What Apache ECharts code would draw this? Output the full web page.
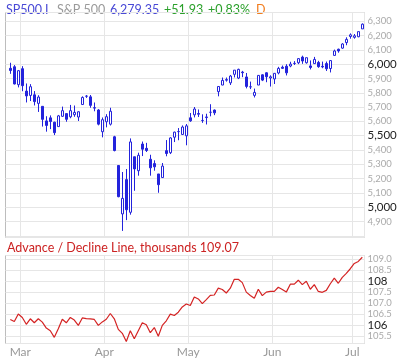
<!DOCTYPE html>
<html><head><meta charset="utf-8">
<script src="https://cdn.jsdelivr.net/npm/echarts@6/dist/echarts.min.js"></script>
<style>html,body{margin:0;padding:0;background:#fff}#c{width:400px;height:362px}</style>
</head><body><div id="c"></div>
<script>
// ---- data ----
const dates = [
 '2025-02-26','2025-02-27','2025-02-28',
 '2025-03-03','2025-03-04','2025-03-05','2025-03-06','2025-03-07','2025-03-10','2025-03-11','2025-03-12','2025-03-13','2025-03-14',
 '2025-03-17','2025-03-18','2025-03-19','2025-03-20','2025-03-21','2025-03-24','2025-03-25','2025-03-26','2025-03-27','2025-03-28','2025-03-31',
 '2025-04-01','2025-04-02','2025-04-03','2025-04-04','2025-04-07','2025-04-08','2025-04-09','2025-04-10','2025-04-11','2025-04-14',
 '2025-04-15','2025-04-16','2025-04-17','2025-04-21','2025-04-22','2025-04-23','2025-04-24','2025-04-25','2025-04-28','2025-04-29','2025-04-30',
 '2025-05-01','2025-05-02','2025-05-05','2025-05-06','2025-05-07','2025-05-08','2025-05-09','2025-05-12','2025-05-13','2025-05-14',
 '2025-05-15','2025-05-16','2025-05-19','2025-05-20','2025-05-21','2025-05-22','2025-05-23','2025-05-27','2025-05-28','2025-05-29','2025-05-30',
 '2025-06-02','2025-06-03','2025-06-04','2025-06-05','2025-06-06','2025-06-09','2025-06-10','2025-06-11','2025-06-12','2025-06-13',
 '2025-06-16','2025-06-17','2025-06-18','2025-06-20','2025-06-23','2025-06-24','2025-06-25','2025-06-26','2025-06-27','2025-06-30',
 '2025-07-01','2025-07-02','2025-07-03'
];
const opens = [5970.87,5981.88,5856.74,
 5968.33,5811.98,5781.44,5785.87,5726.01,5705.37,5603.65,5624.84,5594.45,5563.85,
 5635.60,5654.53,5632.37,5646.92,5630.73,5718.08,5775.90,5771.66,5695.64,5679.85,5527.91,
 5597.53,5580.76,5492.74,5292.14,4953.79,5193.57,4965.28,5353.15,5255.56,5441.96,
 5411.99,5335.75,5305.45,5232.94,5207.67,5395.92,5381.38,5489.73,5529.22,5508.87,5499.44,
 5625.14,5645.94,5655.32,5605.88,5626.86,5663.94,5679.32,5807.99,5854.22,5887.95,
 5869.37,5929.09,5902.88,5944.66,5910.79,5841.26,5781.89,5854.07,5925.54,5939.92,5903.67,
 5896.68,5938.56,5978.94,5985.67,5987.06,6004.60,6009.91,6049.38,6009.90,5987.89,
 6004.00,6012.15,5985.21,6004.21,5969.67,6061.21,6104.28,6112.09,6150.70,6193.36,
 6187.25,6191.60,6246.45];
const highs = [6009.82,5993.69,5959.40,
 5986.09,5865.08,5860.59,5812.08,5783.01,5705.37,5636.30,5642.19,5597.78,5645.27,
 5703.52,5654.53,5715.33,5711.15,5670.84,5775.14,5783.97,5784.62,5732.28,5685.89,5627.56,
 5650.57,5695.31,5499.53,5292.14,5246.57,5267.47,5481.34,5353.15,5381.46,5459.46,
 5450.41,5367.24,5328.31,5232.94,5309.60,5469.69,5489.40,5528.11,5553.66,5571.95,5581.84,
 5658.91,5700.70,5683.37,5649.62,5653.60,5720.10,5683.14,5844.19,5906.63,5906.55,
 5924.76,5958.62,5968.61,5953.06,5938.37,5878.08,5829.51,5924.33,5929.00,5943.13,5922.14,
 5937.40,5981.35,5990.48,5999.70,6016.87,6021.31,6043.01,6059.40,6045.43,6026.16,
 6050.83,6023.25,6018.20,6018.20,6028.81,6101.76,6108.51,6146.52,6187.68,6215.08,
 6210.78,6227.60,6284.65];
const lows = [5932.69,5858.78,5837.66,
 5810.91,5732.59,5742.35,5711.64,5666.29,5564.02,5528.41,5546.09,5504.65,5563.85,
 5631.12,5597.76,5622.20,5632.33,5603.10,5718.08,5764.29,5695.48,5670.94,5572.42,5488.73,
 5558.52,5571.48,5390.83,5069.90,4835.04,4910.42,4948.43,5115.27,5220.77,5358.02,
 5386.44,5220.79,5255.58,5101.63,5207.67,5356.42,5371.96,5455.86,5468.64,5505.70,5433.24,
 5597.35,5628.05,5631.16,5590.16,5578.64,5635.61,5643.99,5775.39,5853.23,5878.34,
 5854.43,5907.36,5895.69,5909.26,5830.91,5825.82,5767.41,5854.07,5881.72,5873.80,5843.66,
 5861.43,5929.00,5966.11,5921.20,5978.63,5994.18,6000.26,6002.32,6003.88,5963.21,
 6004.00,5974.80,5971.89,5952.56,5942.17,6059.40,6080.10,6107.28,6132.35,6177.97,
 6177.97,6188.29,6246.45];
const closes = [5956.06,5861.57,5954.50,
 5849.72,5778.15,5842.63,5738.52,5770.20,5614.56,5572.07,5599.30,5521.52,5638.94,
 5675.12,5614.66,5675.29,5662.89,5667.56,5767.57,5776.65,5712.20,5693.31,5580.94,5611.85,
 5633.07,5670.97,5396.52,5074.08,5062.25,4982.77,5456.90,5268.05,5363.36,5405.97,
 5396.63,5275.70,5282.70,5158.20,5287.76,5375.86,5484.77,5525.21,5528.75,5560.83,5569.06,
 5604.14,5686.67,5650.38,5606.91,5631.28,5663.94,5659.91,5844.19,5886.55,5892.58,
 5916.93,5958.38,5963.60,5940.46,5844.61,5842.01,5802.82,5921.54,5888.55,5912.17,5911.69,
 5935.94,5970.37,5970.81,5939.30,6000.36,6005.88,6038.81,6022.24,6045.26,5976.97,
 6033.11,5982.72,5980.87,5967.84,6025.17,6092.18,6092.16,6141.02,6173.07,6204.95,
 6198.01,6227.42,6279.35];
const adLine = [106.25,106.16,106.50,106.34,106.03,106.28,106.10,106.28,106.13,105.86,
 105.74,105.44,105.83,106.26,106.10,106.34,106.22,105.98,106.32,106.29,
 106.28,106.25,105.98,106.14,106.26,106.52,106.28,105.80,105.62,105.25,
 105.74,105.38,105.74,106.10,106.01,105.65,105.88,105.49,105.98,106.19,
 106.49,106.43,106.58,106.82,106.95,106.88,107.27,107.18,106.97,107.15,
 107.34,107.36,107.67,107.61,107.45,107.67,108.07,108.07,107.92,107.49,
 107.34,107.21,107.62,107.33,107.49,107.52,107.52,107.71,107.61,107.49,
 107.85,107.85,108.03,107.83,107.98,107.62,107.83,107.52,107.48,107.57,
 107.87,108.12,107.89,108.16,108.34,108.55,108.79,108.88,109.07];
const monthStarts = ['2025-03-03','2025-04-01','2025-05-01','2025-06-02','2025-07-01'];
const monthLabels = ['Mar','Apr','May','Jun','Jul'];
const priceMajor = [5000, 5500, 6000];
const adMajor = [106, 108];
const header = {symbol:'SP500.I', name:'S&P 500', last:'6,279.35', change:'+51.93', pct:'+0.83%', freq:'D'};
const adTitle = 'Advance / Decline Line, thousands 109.07';

// ---- chart ----
const FONT = 'Lato';
const HFONT = '12.5px ' + FONT;
const BLUE = '#2323dc';
const candles = opens.map((o, i) => [o, closes[i], lows[i], highs[i]]);
const isMonthStart = (i) => monthStarts.indexOf(dates[i]) >= 0;
const gridLine = {show: true, lineStyle: {color: '#e6e6e6', width: 1}};

const chart = echarts.init(document.getElementById('c'), null, {renderer: 'canvas'});
chart.setOption({
  animation: false,
  textStyle: {fontFamily: FONT},
  grid: [
    {left: 5.5, top: 12.5, width: 359, height: 225, show: true, borderColor: '#bdbdbd', borderWidth: 1, backgroundColor: 'transparent'},
    {left: 8.3, top: 12.5, width: 356, height: 225},
    {left: 5.5, top: 255.5, width: 359, height: 88, show: true, borderColor: '#bdbdbd', borderWidth: 1, backgroundColor: 'transparent'},
    {left: 8.3, top: 255.5, width: 356, height: 88}
  ],
  xAxis: [
    {type: 'category', gridIndex: 0, data: dates, show: false},
    {type: 'category', gridIndex: 1, data: dates, boundaryGap: true,
      axisLine: {show: false}, axisTick: {show: false}, axisLabel: {show: false},
      splitLine: Object.assign({interval: (i) => isMonthStart(i)}, gridLine)},
    {type: 'category', gridIndex: 2, data: dates, show: false},
    {type: 'category', gridIndex: 3, data: dates, boundaryGap: true,
      axisLine: {show: false}, axisTick: {show: false},
      splitLine: Object.assign({interval: (i) => isMonthStart(i)}, gridLine),
      axisLabel: {interval: (i) => isMonthStart(i), margin: 3, color: '#999', fontSize: 12, fontFamily: FONT,
        padding: [0, 4, 0, 0],
        formatter: (v) => monthLabels[monthStarts.indexOf(v)] || ''}}
  ],
  yAxis: [
    {type: 'value', gridIndex: 0, position: 'right', min: 4789, max: 6361, splitNumber: 15, scale: true,
      axisLine: {show: false}, axisTick: {show: false}, splitLine: gridLine,
      axisLabel: {margin: 3, fontFamily: FONT,
        formatter: (v) => {
          if (v % 100 !== 0 || v < 4850 || v > 6350) return '';
          const s = v.toLocaleString('en-US');
          return priceMajor.indexOf(v) >= 0 ? '{M|' + s + '}' : '{m|' + s + '}';
        },
        rich: {M: {color: '#222', fontSize: 11.5, fontFamily: FONT}, m: {color: '#aaa', fontSize: 9.5, fontFamily: FONT}}}},
    {type: 'value', gridIndex: 1, min: 4789, max: 6361, show: false, splitLine: {show: false}},
    {type: 'value', gridIndex: 2, position: 'right', min: 105.16, max: 109.15, splitNumber: 8, scale: true,
      axisLine: {show: false}, axisTick: {show: false}, splitLine: gridLine,
      axisLabel: {margin: 3, fontFamily: FONT,
        formatter: (v) => {
          const r = Math.round(v * 2) / 2;
          if (Math.abs(r - v) > 1e-6) return '';
          return adMajor.indexOf(r) >= 0 ? '{M|' + r.toFixed(0) + '}' : '{m|' + r.toFixed(1) + '}';
        },
        rich: {M: {color: '#222', fontSize: 11.5, fontFamily: FONT}, m: {color: '#aaa', fontSize: 9.5, fontFamily: FONT}}}},
    {type: 'value', gridIndex: 3, min: 105.16, max: 109.15, show: false, splitLine: {show: false}}
  ],
  series: [
    {type: 'candlestick', xAxisIndex: 1, yAxisIndex: 1, data: candles, barWidth: 3,
      itemStyle: {color: '#fff', color0: BLUE, borderColor: BLUE, borderColor0: BLUE, borderColorDoji: BLUE, borderWidth: 1}},
    {type: 'line', xAxisIndex: 3, yAxisIndex: 3, data: adLine, showSymbol: false, symbol: 'none',
      lineStyle: {color: '#d42323', width: 1.2}}
  ],
  graphic: [
    {type: 'text', x: 6, y: 10, style: {text: header.symbol, fill: '#4848d6', font: HFONT, verticalAlign: 'middle'}},
    {type: 'text', x: 57, y: 10, style: {text: header.name, fill: '#9a9a9a', font: HFONT, verticalAlign: 'middle'}},
    {type: 'text', x: 110, y: 10, style: {text: header.last, fill: '#4848d6', font: HFONT, verticalAlign: 'middle'}},
    {type: 'text', x: 164, y: 10, style: {text: header.change, fill: '#2aa02a', font: HFONT, verticalAlign: 'middle'}},
    {type: 'text', x: 208, y: 10, style: {text: header.pct, fill: '#2aa02a', font: HFONT, verticalAlign: 'middle'}},
    {type: 'text', x: 256, y: 10, style: {text: header.freq, fill: '#f27c1c', font: HFONT, verticalAlign: 'middle'}},
    {type: 'text', x: 7, y: 248, style: {text: adTitle, fill: '#cc2222', font: HFONT, verticalAlign: 'middle'}}
  ]
});
</script></body></html>
